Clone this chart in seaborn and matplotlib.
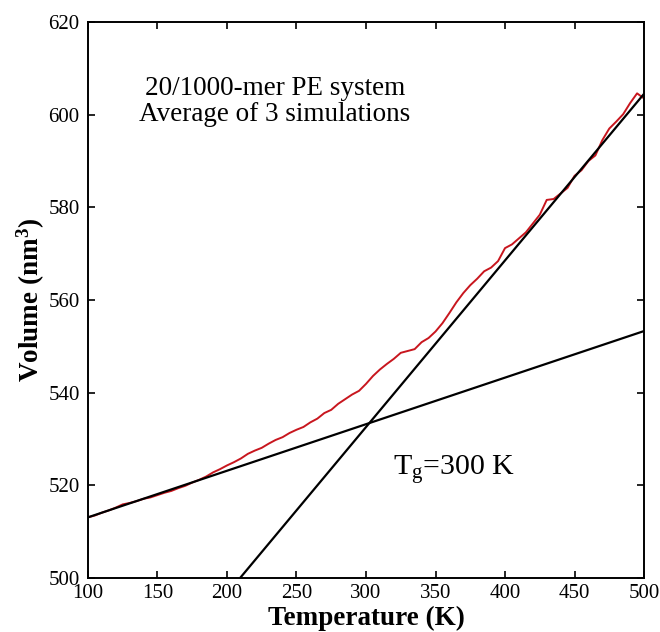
import matplotlib
matplotlib.use("Agg")
import matplotlib.pyplot as plt
import seaborn as sns
import pandas as pd

# Averaged volume-temperature curve of the 20/1000-mer PE system
temperature_K = list(range(100, 505, 5))
volume_nm3 = [
    513.1, 513.5, 514.1, 514.6, 515.2, 515.9, 516.2, 516.6, 517.1, 517.4,
    517.9, 518.4, 518.8, 519.4, 519.9, 520.6, 521.2, 521.9, 522.8, 523.5,
    524.3, 525.0, 525.8, 526.8, 527.5, 528.1, 529.0, 529.8, 530.4, 531.3,
    532.0, 532.6, 533.6, 534.4, 535.6, 536.3, 537.6, 538.6, 539.6, 540.4,
    541.9, 543.6, 545.0, 546.2, 547.3, 548.6, 549.0, 549.4, 550.9, 551.8,
    553.2, 555.0, 557.2, 559.5, 561.5, 563.2, 564.6, 566.2, 567.0, 568.4,
    571.2, 572.0, 573.3, 574.6, 576.5, 578.4, 581.6, 581.8, 583.0, 584.2,
    586.8, 588.0, 590.0, 591.2, 594.5, 597.0, 598.5, 600.1, 602.5, 604.6,
    603.5,
]

# Linear fits of the glassy (low-T) and melt (high-T) regions
glassy_fit_T = [100, 500]
glassy_fit_V = [513.1, 553.3]
melt_fit_T = [209.4, 500]
melt_fit_V = [500.0, 604.5]

x_ticks = [100, 150, 200, 250, 300, 350, 400, 450, 500]
y_ticks = [500, 520, 540, 560, 580, 600, 620]

sns.set_style("ticks")
plt.rcParams["font.family"] = ["Liberation Serif", "DejaVu Serif"]
plt.rcParams["text.color"] = "black"
plt.rcParams["axes.labelcolor"] = "black"
plt.rcParams["xtick.color"] = "black"
plt.rcParams["ytick.color"] = "black"
plt.rcParams["mathtext.fontset"] = "custom"
plt.rcParams["mathtext.rm"] = "Liberation Serif"
plt.rcParams["mathtext.it"] = "Liberation Serif:italic"
plt.rcParams["mathtext.bf"] = "Liberation Serif:bold"

fig = plt.figure(figsize=(6.6, 6.32), dpi=100)
ax = fig.add_axes([0.1333, 0.0854, 0.8425, 0.8798])

curve = pd.DataFrame({"T": temperature_K, "V": volume_nm3})
glassy = pd.DataFrame({"T": glassy_fit_T, "V": glassy_fit_V})
melt = pd.DataFrame({"T": melt_fit_T, "V": melt_fit_V})

sns.lineplot(data=curve, x="T", y="V", ax=ax, color="#c8161e", linewidth=1.4)
sns.lineplot(data=glassy, x="T", y="V", ax=ax, color="black", linewidth=1.6)
sns.lineplot(data=melt, x="T", y="V", ax=ax, color="black", linewidth=1.6)

ax.set_xlim(100, 500)
ax.set_ylim(500, 620)
ax.set_xticks(x_ticks)
ax.set_yticks(y_ticks)
ax.tick_params(direction="in", length=5, width=1.2, top=True, right=True,
               labelsize=15, colors="black")
ax.tick_params(axis="x", pad=4)
ax.tick_params(axis="y", pad=6)
for side in ax.spines.values():
    side.set_linewidth(1.4)
    side.set_color("black")

ax.set_xlabel("Temperature (K)", fontsize=19.5, fontweight="bold", labelpad=2)
ax.set_ylabel(r"Volume (nm$^\mathbf{3}$)", fontsize=19.5, fontweight="bold", labelpad=1)

ax.text(0.336, 0.857, "20/1000-mer PE system\nAverage of 3 simulations",
        transform=ax.transAxes, ha="center", va="center", fontsize=19.5,
        linespacing=1.08)
ax.text(0.549, 0.185, r"T$_\mathrm{g}$=300 K", transform=ax.transAxes,
        ha="left", va="baseline", fontsize=21.5)

fig.savefig("out.png", dpi=100)
